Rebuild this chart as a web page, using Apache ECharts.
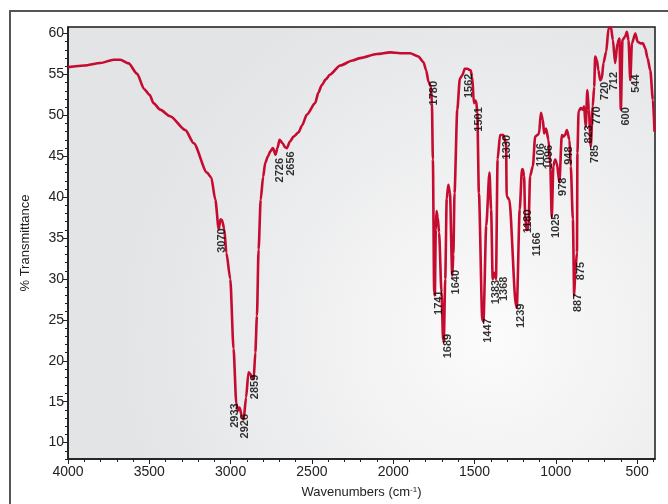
<!DOCTYPE html>
<html>
<head>
<meta charset="utf-8">
<script src="https://cdn.jsdelivr.net/npm/echarts@6/dist/echarts.min.js"></script>
<style>
html, body { margin: 0; padding: 0; background: #fff; }
#ir { width: 668px; height: 504px; }
</style>
</head>
<body>
<div id="ir"></div>
<script>
// spectrum: wavenumber (cm-1) / % transmittance
var wavenumbers = [4000, 3900, 3801, 3720, 3678, 3627, 3576, 3531, 3498, 3474, 3433, 3372, 3278, 3227, 3145, 3119, 3094, 3073, 3062, 3053, 3039, 3026, 3002, 2982, 2965, 2955, 2945, 2930, 2920, 2905, 2890, 2880, 2869, 2858, 2848, 2838, 2828, 2815, 2800, 2787, 2770, 2756, 2740, 2724, 2712, 2699, 2680, 2665, 2654, 2635, 2613, 2583, 2560, 2531, 2480, 2460, 2439, 2415, 2388, 2326, 2250, 2203, 2100, 2018, 1957, 1896, 1845, 1814, 1797, 1783, 1768, 1762, 1756, 1748, 1744, 1738, 1734, 1726, 1718, 1703, 1693, 1689, 1680, 1671, 1661, 1651, 1637, 1630, 1623, 1606, 1590, 1575, 1560, 1544, 1524, 1514, 1504, 1495, 1489, 1483, 1473, 1452, 1445, 1428, 1408, 1398, 1388, 1380, 1373, 1368, 1358, 1343, 1323, 1306, 1302, 1286, 1245, 1240, 1222, 1208, 1203, 1195, 1189, 1181, 1175, 1168, 1158, 1141, 1127, 1113, 1103, 1092, 1080, 1072, 1060, 1045, 1034, 1025, 1015, 1004, 994, 978, 963, 953, 943, 932, 916, 908, 895, 887, 880, 870, 867, 860, 846, 834, 826, 816, 806, 797, 785, 773, 764, 758, 748, 738, 727, 717, 707, 690, 676, 661, 649, 635, 621, 609, 600, 590, 574, 563, 553, 542, 532, 511, 497, 480, 464, 450, 436, 419, 403, 393];
var transmittance = [55.9, 56.1, 56.4, 56.8, 56.8, 56.35, 55.1, 53.2, 52.5, 51.5, 50.7, 49.9, 48.2, 46.6, 43.0, 42.4, 39.7, 36.1, 37.3, 37.2, 36.1, 33.2, 30.0, 21.5, 14.8, 13.9, 14.3, 13.2, 12.8, 15.5, 18.6, 18.4, 18.0, 17.8, 21.0, 25.5, 33.6, 39.7, 42.5, 44.2, 45.0, 45.6, 46.0, 45.2, 46.0, 47.0, 46.6, 46.1, 46.0, 46.8, 47.4, 47.9, 48.8, 50.1, 51.5, 52.8, 53.7, 54.4, 55.0, 56.1, 56.7, 57.0, 57.5, 57.7, 57.6, 57.6, 57.2, 56.5, 55.5, 54.1, 53.5, 51.5, 44.6, 28.4, 28.0, 36.0, 38.3, 37.5, 35.7, 28.4, 22.5, 22.3, 30.0, 39.8, 41.5, 40.5, 30.4, 33.0, 40.5, 50.7, 54.5, 54.9, 55.7, 55.7, 55.5, 54.7, 51.5, 51.8, 51.7, 50.3, 40.5, 25.0, 24.8, 36.5, 43.0, 38.5, 30.0, 30.5, 30.8, 30.0, 44.6, 47.6, 47.6, 46.6, 40.1, 39.7, 26.7, 26.5, 38.5, 43.4, 43.4, 42.6, 38.1, 36.0, 36.0, 36.5, 42.6, 43.8, 47.4, 47.6, 47.8, 50.3, 49.5, 47.8, 48.4, 47.0, 43.8, 37.5, 43.8, 44.6, 44.2, 41.8, 47.6, 47.4, 47.6, 48.2, 47.0, 43.8, 37.3, 28.0, 31.0, 33.2, 45.4, 50.5, 50.9, 50.7, 51.1, 48.6, 53.1, 50.7, 46.2, 51.1, 53.5, 57.2, 56.8, 55.5, 54.3, 54.5, 56.4, 57.8, 60.6, 60.8, 59.2, 56.4, 58.8, 59.4, 50.7, 59.2, 59.6, 60.2, 59.2, 54.3, 58.8, 60.0, 59.0, 58.8, 58.8, 58.2, 57.0, 55.5, 51.9, 48.0];

// peak annotations: text and where its upper end sits
var peakLabels = ['3070', '2933', '2926', '2859', '2726', '2656', '1780', '1562', '1501', '1330', '1741', '1689', '1640', '1447', '1383', '1368', '1239', '1180', '1166', '1106', '1096', '1025', '978', '948', '887', '875', '823', '785', '770', '720', '712', '600', '544'];
var peakLabelX = [3053, 2971, 2914, 2848, 2699, 2629, 1752, 1537, 1471, 1301, 1717, 1666, 1615, 1420, 1369, 1316, 1215, 1170, 1117, 1094, 1041, 1000, 953, 922, 861, 844, 799, 758, 744, 697, 641, 568, 506];
var peakLabelY = [36.2, 14.8, 13.5, 18.3, 44.8, 45.6, 54.2, 55.1, 51.0, 47.6, 28.6, 23.3, 31.1, 25.2, 29.9, 30.3, 27.0, 38.5, 35.7, 46.6, 46.4, 38.0, 42.4, 46.2, 28.2, 32.1, 48.8, 46.4, 51.1, 54.1, 55.3, 51.0, 55.0];

// tick values
var xMajorTicks = [500, 1000, 1500, 2000, 2500, 3000, 3500, 4000];
var xMinorTicks = [400, 500, 600, 700, 800, 900, 1000, 1100, 1200, 1300, 1400, 1500, 1600, 1700, 1800, 1900, 2000, 2100, 2200, 2300, 2400, 2500, 2600, 2700, 2800, 2900, 3000, 3100, 3200, 3300, 3400, 3500, 3600, 3700, 3800, 3900, 4000];
var yMajorTicks = [10, 15, 20, 25, 30, 35, 40, 45, 50, 55, 60];
var yMinorTicks = [8, 9, 10, 11, 12, 13, 14, 15, 16, 17, 18, 19, 20, 21, 22, 23, 24, 25, 26, 27, 28, 29, 30, 31, 32, 33, 34, 35, 36, 37, 38, 39, 40, 41, 42, 43, 44, 45, 46, 47, 48, 49, 50, 51, 52, 53, 54, 55, 56, 57, 58, 59, 60];

var fontStack = "'Liberation Sans', Arial, sans-serif";

var spectrum = wavenumbers.map(function (w, i) { return [w, transmittance[i]]; });
var peaks = peakLabels.map(function (t, i) { return { name: t, value: [peakLabelX[i], peakLabelY[i]] }; });
var plainNumber = function (v) { return String(v); };

var myChart = echarts.init(document.getElementById('ir'), null, { renderer: 'canvas' });
var option = {
	animation: false,
	backgroundColor: '#fff',
	grid: {
		left: 68,
		right: 13,
		top: 27,
		bottom: 44,
		show: true,
		borderColor: '#1a1a1a',
		borderWidth: 1.5,
		backgroundColor: {
			type: 'radial', x: 0.72, y: 0.72, r: 0.85,
			colorStops: [{ offset: 0, color: '#fbfbfb' }, { offset: 1, color: '#e3e4e6' }]
		}
	},
	graphic: [{
		type: 'rect',
		shape: { x: 10, y: 11, width: 720, height: 540 },
		style: { fill: 'none', stroke: '#555', lineWidth: 2 },
		silent: true
	}],
	xAxis: [{
		type: 'value',
		inverse: true,
		min: 390,
		max: 4000,
		position: 'bottom',
		name: 'Wavenumbers (cm{sup|-1})',
		nameLocation: 'middle',
		nameGap: 27,
		nameTextStyle: {
			color: '#222', fontSize: 13, fontFamily: fontStack,
			rich: { sup: { fontSize: 8, verticalAlign: 'top', color: '#222', fontFamily: fontStack } }
		},
		axisLine: { show: true, lineStyle: { color: '#1a1a1a', width: 1.5 } },
		axisTick: { show: true, customValues: xMajorTicks, length: 5, lineStyle: { color: '#222', width: 1 } },
		axisLabel: { customValues: xMajorTicks, formatter: plainNumber, color: '#222', fontSize: 14, fontFamily: fontStack, margin: 6 },
		splitLine: { show: false }
	}, {
		type: 'value',
		inverse: true,
		min: 390,
		max: 4000,
		position: 'bottom',
		axisLine: { show: false },
		axisTick: { show: true, customValues: xMinorTicks, length: 3, lineStyle: { color: '#222', width: 1 } },
		axisLabel: { show: false },
		splitLine: { show: false }
	}],
	yAxis: [{
		type: 'value',
		min: 8,
		max: 60.8,
		position: 'left',
		name: '% Transmittance',
		nameLocation: 'middle',
		nameGap: 36,
		nameTextStyle: { color: '#222', fontSize: 13, fontFamily: fontStack },
		axisLine: { show: true, lineStyle: { color: '#1a1a1a', width: 1.5 } },
		axisTick: { show: true, customValues: yMajorTicks, length: 5, lineStyle: { color: '#222', width: 1 } },
		axisLabel: { customValues: yMajorTicks, formatter: plainNumber, color: '#222', fontSize: 14, fontFamily: fontStack, margin: 4 },
		splitLine: { show: false }
	}, {
		type: 'value',
		min: 8,
		max: 60.8,
		position: 'left',
		axisLine: { show: false },
		axisTick: { show: true, customValues: yMinorTicks, length: 3, lineStyle: { color: '#222', width: 1 } },
		axisLabel: { show: false },
		splitLine: { show: false }
	}],
	series: [{
		name: 'spectrum',
		type: 'line',
		data: spectrum,
		showSymbol: false,
		smooth: 0.25,
		smoothMonotone: 'x',
		lineStyle: { color: '#c50b30', width: 2.6 },
		z: 3
	}, {
		name: 'peaks',
		type: 'scatter',
		data: peaks,
		symbolSize: 0,
		z: 4,
		label: {
			show: true,
			formatter: '{b}',
			position: 'inside',
			rotate: 90,
			align: 'right',
			verticalAlign: 'middle',
			color: '#000',
			fontSize: 11,
			fontWeight: 'bold',
			fontFamily: fontStack
		}
	}]
};
myChart.setOption(option);
</script>
</body>
</html>
